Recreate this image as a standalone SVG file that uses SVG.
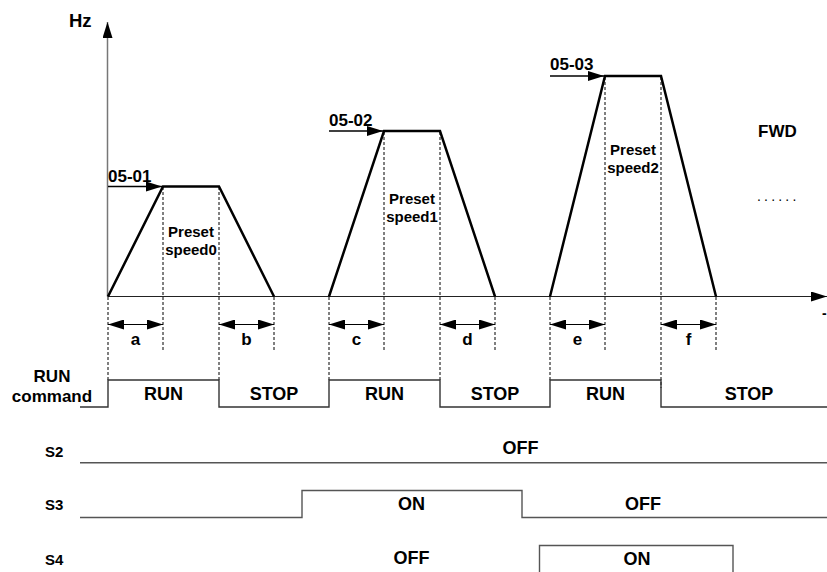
<svg xmlns="http://www.w3.org/2000/svg" width="827" height="572" viewBox="0 0 827 572">
<defs>
<style>
text{font-family:"Liberation Sans",Arial,sans-serif;font-weight:bold;fill:#000}
.c{text-anchor:middle}
.lab{font-size:17px}
.box{font-size:18px}
.sig{font-size:15px}
.pre{font-size:15px}
.trap{fill:none;stroke:#000;stroke-width:2.5;stroke-linejoin:miter}
.dash{stroke:#000;stroke-width:1;stroke-dasharray:3,2;fill:none}
.ptr{stroke:#000;stroke-width:1.3;fill:none}
.dim{stroke:#000;stroke-width:1.2;fill:none}
.sigl{fill:none;stroke:#555;stroke-width:1.4}
.runl{fill:none;stroke:#333;stroke-width:1.4}
</style>
<marker id="ah" viewBox="0 0 10 10" refX="10" refY="5" markerWidth="16" markerHeight="10" markerUnits="userSpaceOnUse" orient="auto" preserveAspectRatio="none">
<path d="M0,0 L10,5 L0,10 z" fill="#000"/>
</marker>
<marker id="ahs" viewBox="0 0 10 10" refX="0" refY="5" markerWidth="16" markerHeight="10" markerUnits="userSpaceOnUse" orient="auto" preserveAspectRatio="none">
<path d="M10,0 L0,5 L10,10 z" fill="#000"/>
</marker>
</defs>

<g id="axes">
<line x1="107.5" y1="296.5" x2="107.5" y2="22" stroke="#777" stroke-width="1.5" marker-end="url(#ah)"/>
<line x1="107.5" y1="296.5" x2="827" y2="296.5" stroke="#222" stroke-width="1.2" marker-end="url(#ah)"/>
<text id="hz" x="69" y="27" style="font-size:18.5px">Hz</text>
<text x="822" y="318" style="font-size:14px">-</text>
</g>

<g id="profile">
<polyline class="trap" points="108,296.5 163,186.5 219,186.5 274,296.5"/>
<polyline class="trap" points="329,296.5 384,131 440,131 495,296.5"/>
<polyline class="trap" points="550,296.5 605,76 661,76 716,296.5"/>
</g>

<g id="dashes">
<line class="dash" x1="108" y1="297" x2="108" y2="380"/>
<line class="dash" x1="163" y1="187" x2="163" y2="352"/>
<line class="dash" x1="219" y1="187" x2="219" y2="380"/>
<line class="dash" x1="274" y1="297" x2="274" y2="352"/>
<line class="dash" x1="329" y1="297" x2="329" y2="380"/>
<line class="dash" x1="384" y1="132" x2="384" y2="352"/>
<line class="dash" x1="440" y1="132" x2="440" y2="380"/>
<line class="dash" x1="495" y1="297" x2="495" y2="352"/>
<line class="dash" x1="550" y1="297" x2="550" y2="380"/>
<line class="dash" x1="605" y1="77" x2="605" y2="352"/>
<line class="dash" x1="661" y1="77" x2="661" y2="388"/>
<line class="dash" x1="716" y1="297" x2="716" y2="352"/>
</g>

<g id="connectors">
<line class="ptr" x1="108" y1="186.5" x2="162" y2="186.5" marker-end="url(#ah)"/>
<line class="ptr" x1="329" y1="131" x2="383" y2="131" marker-end="url(#ah)"/>
<line class="ptr" x1="550" y1="76" x2="604" y2="76" marker-end="url(#ah)"/>
<line class="dim" x1="108" y1="324.5" x2="163" y2="324.5" marker-start="url(#ahs)" marker-end="url(#ah)"/>
<line class="dim" x1="219" y1="324.5" x2="274" y2="324.5" marker-start="url(#ahs)" marker-end="url(#ah)"/>
<line class="dim" x1="329" y1="324.5" x2="384" y2="324.5" marker-start="url(#ahs)" marker-end="url(#ah)"/>
<line class="dim" x1="440" y1="324.5" x2="495" y2="324.5" marker-start="url(#ahs)" marker-end="url(#ah)"/>
<line class="dim" x1="550" y1="324.5" x2="605" y2="324.5" marker-start="url(#ahs)" marker-end="url(#ah)"/>
<line class="dim" x1="661" y1="324.5" x2="716" y2="324.5" marker-start="url(#ahs)" marker-end="url(#ah)"/>
</g>

<g id="speed-labels">
<text class="lab" x="108" y="182">05-01</text>
<text class="lab" x="329" y="126">05-02</text>
<text class="lab" x="550" y="70">05-03</text>
<text class="pre c" x="191" y="237">Preset</text>
<text class="pre c" x="191" y="255">speed0</text>
<text class="pre c" x="412" y="204">Preset</text>
<text class="pre c" x="412" y="222">speed1</text>
<text class="pre c" x="633" y="155">Preset</text>
<text class="pre c" x="633" y="173">speed2</text>
<text class="lab" x="758" y="137">FWD</text>
<text x="757" y="201" style="font-size:14px;font-weight:normal;letter-spacing:3.2px">......</text>
</g>

<g id="intervals">
<text class="lab c" x="135.5" y="345">a</text>
<text class="lab c" x="246.5" y="345">b</text>
<text class="lab c" x="356.5" y="345">c</text>
<text class="lab c" x="467.5" y="345">d</text>
<text class="lab c" x="577.5" y="345">e</text>
<text class="lab c" x="688.5" y="345">f</text>
</g>

<g id="run-command">
<text class="lab c" x="52" y="382">RUN</text>
<text class="lab c" x="52" y="402">command</text>
<polyline class="runl" points="80,407 108,407 108,380 219,380 219,407 329,407 329,380 440,380 440,407 550,407 550,380 661,380 661,407 827,407"/>
<text class="box c" x="163.5" y="400">RUN</text>
<text class="box c" x="274" y="400">STOP</text>
<text class="box c" x="384.5" y="400">RUN</text>
<text class="box c" x="495" y="400">STOP</text>
<text class="box c" x="605.5" y="400">RUN</text>
<text class="box c" x="749" y="400">STOP</text>
</g>

<g id="s2">
<text class="sig" x="45" y="457">S2</text>
<line class="sigl" x1="80" y1="462.7" x2="827" y2="462.7"/>
<text class="box c" x="520.5" y="454">OFF</text>
</g>

<g id="s3">
<text class="sig" x="45" y="510">S3</text>
<polyline class="sigl" points="80,517.5 302,517.5 302,490.5 522,490.5 522,517.5 827,517.5"/>
<text class="box c" x="411.5" y="510">ON</text>
<text class="box c" x="643" y="510">OFF</text>
</g>

<g id="s4">
<text class="sig" x="45" y="565">S4</text>
<polyline class="sigl" points="539.5,573 539.5,545.5 733,545.5 733,573"/>
<text class="box c" x="411.5" y="564">OFF</text>
<text class="box c" x="637" y="565">ON</text>
</g>
</svg>
